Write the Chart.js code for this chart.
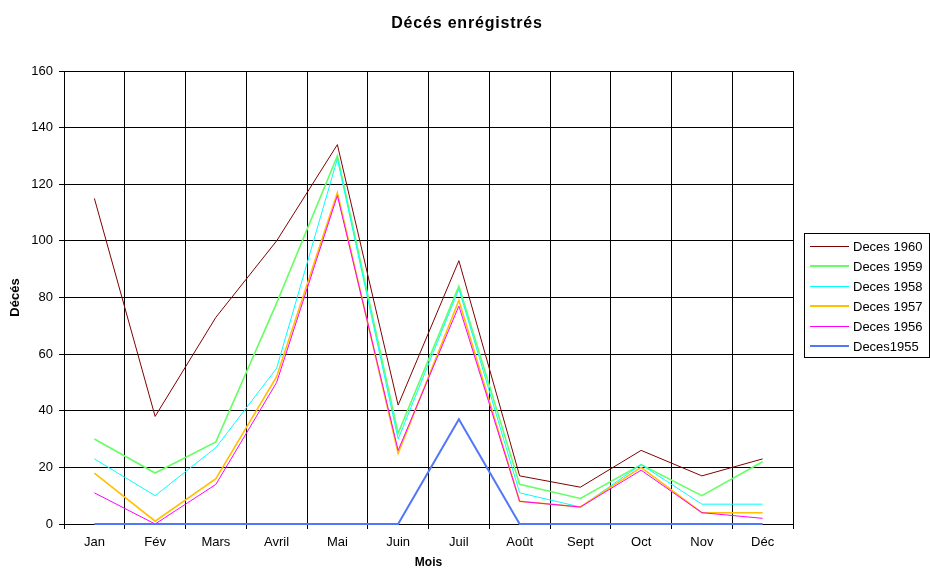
<!DOCTYPE html>
<html>
<head>
<meta charset="utf-8">
<script src="https://cdn.jsdelivr.net/npm/chart.js@4.4.1/dist/chart.umd.min.js"></script>
<style>
  body { margin: 0; background: #fff; }
  #wrap { position: relative; width: 930px; height: 569px; }
  #title {
    position: absolute; left: 0; top: 13px; width: 934px; text-align: center;
    font-family: "Liberation Sans", Arial, sans-serif; font-size: 16px; font-weight: bold;
    line-height: 20px; letter-spacing: 0.8px; color: #000;
  }
  #legend {
    position: absolute; left: 804px; top: 233px; width: 126px; height: 125px;
    box-sizing: border-box; border: 1px solid #000; padding-top: 2px;
    font-family: "Liberation Sans", Arial, sans-serif; font-size: 13px; color: #000;
  }
  #legend div { height: 20px; display: flex; align-items: center; }
  #legend span.ln { display: inline-block; width: 39px; margin: 0 4px 0 5px; }
</style>
</head>
<body>
<div id="wrap">
  <canvas id="c" width="930" height="569"></canvas>
  <div id="title">Décés enrégistrés</div>
  <div id="legend"></div>
</div>
<script>
const months = ["Jan", "Fév", "Mars", "Avril", "Mai", "Juin", "Juil", "Août", "Sept", "Oct", "Nov", "Déc"];
const deces1960 = [115, 38, 73, 100, 134, 42, 93, 17, 13, 26, 17, 23];
const deces1959 = [30, 18, 29, 78, 130, 32, 84, 14, 9, 21, 10, 22];
const deces1958 = [23, 10, 27, 55, 129, 30, 83, 11, 6, 21, 7, 7];
const deces1957 = [18, 1, 16, 52, 117, 25, 79, 8, 6, 20, 4, 4];
const deces1956 = [11, 0, 14, 50, 116, 26, 77, 8, 6, 19, 4, 2];
const deces1955 = [0, 0, 0, 0, 0, 0, 37, 0, 0, 0, 0, 0];
const yTicks = [0, 20, 40, 60, 80, 100, 120, 140, 160];

const font = "'Liberation Sans', Arial, sans-serif";

// legend order top to bottom; later series drawn on top
const series = [
  { label: "Deces 1960", data: deces1960, color: "#800000", width: 1 },
  { label: "Deces 1959", data: deces1959, color: "#66ff66", width: 1.6 },
  { label: "Deces 1958", data: deces1958, color: "#00ffff", width: 1 },
  { label: "Deces 1957", data: deces1957, color: "#ffc000", width: 1.6 },
  { label: "Deces 1956", data: deces1956, color: "#ff00ff", width: 1 },
  { label: "Deces1955", data: deces1955, color: "#5078f8", width: 2 }
];

new Chart(document.getElementById("c"), {
  type: "line",
  data: {
    labels: months,
    datasets: series.map((s, i) => ({
      label: s.label,
      data: s.data,
      borderColor: s.color,
      backgroundColor: s.color,
      borderWidth: s.width,
      pointRadius: 0,
      tension: 0,
      clip: 3,
      order: series.length - i
    }))
  },
  options: {
    responsive: false,
    animation: false,
    layout: { padding: { left: 0, right: 137, top: 71, bottom: 0 } },
    plugins: {
      legend: { display: false },
      tooltip: { enabled: false },
      title: { display: false }
    },
    scales: {
      x: {
        offset: true,
        grid: { offset: true, color: "#000", lineWidth: 1, tickLength: 5 },
        border: { color: "#000" },
        ticks: { color: "#000", font: { family: font, size: 13 }, padding: 6, maxRotation: 0 },
        title: {
          display: true, text: "Mois", color: "#000",
          font: { family: font, size: 12, weight: "bold", lineHeight: 1 },
          padding: { top: 0, bottom: 0 }
        },
        afterFit: s => { s.height = 45; }
      },
      y: {
        min: 0, max: 160,
        afterBuildTicks: s => { s.ticks = yTicks.map(v => ({ value: v })); },
        grid: { color: "#000", lineWidth: 1, tickLength: 5 },
        border: { color: "#000" },
        ticks: { color: "#000", font: { family: font, size: 13 }, padding: 6 },
        title: {
          display: true, text: "Décés", color: "#000",
          font: { family: font, size: 13, weight: "bold", lineHeight: 1.2 },
          padding: { top: 8, bottom: 0 }
        },
        afterFit: s => { s.width = 64; }
      }
    }
  }
});

const legend = document.getElementById("legend");
series.forEach(s => {
  const row = document.createElement("div");
  const ln = document.createElement("span");
  ln.className = "ln";
  ln.style.borderTop = Math.max(1, Math.round(s.width)) + "px solid " + s.color;
  row.appendChild(ln);
  row.appendChild(document.createTextNode(s.label));
  legend.appendChild(row);
});
</script>
</body>
</html>
